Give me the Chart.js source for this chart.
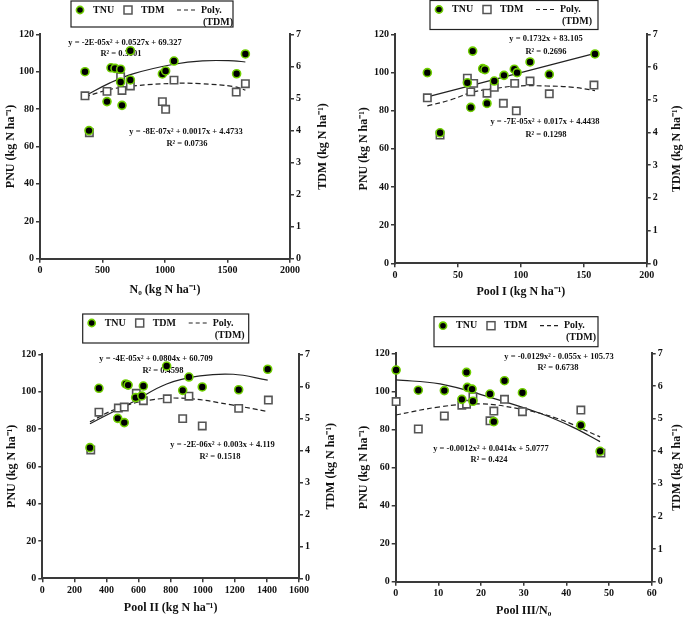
<!DOCTYPE html>
<html>
<head>
<meta charset="utf-8">
<script src="https://cdn.jsdelivr.net/npm/chart.js@4.4.1/dist/chart.umd.min.js"></script>
<style>
  body { margin: 0; background: #fff; }
  canvas { position: absolute; }
</style>
</head>
<body>
<canvas id="c1" width="340" height="305" style="left:0;top:0"></canvas>
<canvas id="c2" width="345" height="305" style="left:340px;top:0"></canvas>
<canvas id="c3" width="340" height="314" style="left:0;top:305px"></canvas>
<canvas id="c4" width="345" height="314" style="left:340px;top:305px"></canvas>
<script>
const FONT = '"Liberation Serif", "Times New Roman", serif';

// tick labels
const pnuTicks = [0, 20, 40, 60, 80, 100, 120];
const tdmTicks = [0, 1, 2, 3, 4, 5, 6, 7];
const n0Ticks = [0, 500, 1000, 1500, 2000];
const poolITicks = [0, 50, 100, 150, 200];
const poolIITicks = [0, 200, 400, 600, 800, 1000, 1200, 1400, 1600];
const poolIIITicks = [0, 10, 20, 30, 40, 50, 60];

// N0 panel
const n0TnuX = [360, 392, 536, 568, 600, 645, 656, 645, 723, 723, 979, 1005, 1072, 1573, 1643];
const n0TnuY = [100.0, 68.5, 84.0, 102.1, 101.8, 101.3, 82.0, 94.5, 111.2, 95.6, 98.8, 100.4, 105.7, 98.9, 109.5];
const n0TdmX = [360, 395, 536, 645, 656, 723, 979, 1005, 1072, 1570, 1643];
const n0TdmY = [5.08, 3.93, 5.22, 5.68, 5.25, 5.39, 4.90, 4.66, 5.57, 5.20, 5.46];
const n0FitX = [360, 560, 750, 1070, 1300, 1550, 1643];
const n0FitY = [87.0, 94.0, 99.0, 104.0, 105.8, 105.8, 105.2];
const n0TdmFitX = [360, 560, 750, 1070, 1280, 1550, 1643];
const n0TdmFitY = [5.05, 5.28, 5.39, 5.47, 5.46, 5.37, 5.26];

// Pool I panel
const p1TnuX = [25.7, 35.8, 61.7, 57.5, 60.2, 69.7, 71.5, 73.1, 78.9, 86.6, 94.8, 97.0, 107.3, 122.6, 158.9];
const p1TnuY = [99.9, 68.4, 111.2, 94.6, 81.7, 102.0, 101.5, 83.8, 95.5, 98.5, 101.7, 99.9, 105.5, 99.0, 109.7];
const p1TdmX = [25.7, 35.8, 57.5, 60.2, 62.5, 73.1, 78.9, 86.1, 96.4, 95.1, 107.3, 122.6, 158.1];
const p1TdmY = [5.06, 3.92, 5.66, 5.24, 5.50, 5.20, 5.38, 4.89, 4.66, 5.50, 5.57, 5.18, 5.45];
const p1FitX = [25.7, 158.9];
const p1FitY = [87.2, 110.0];
const p1TdmFitX = [25.7, 43.7, 62.5, 80.8, 96.4, 120.5, 141.7, 158.9];
const p1TdmFitY = [4.81, 4.99, 5.24, 5.35, 5.42, 5.42, 5.38, 5.28];

// Pool II panel
const p2TnuX = [297, 353, 470, 511, 520, 535, 582, 620, 630, 775, 875, 914, 997, 1224, 1405];
const p2TnuY = [70.0, 101.8, 85.7, 83.4, 104.1, 103.5, 96.8, 97.7, 103.0, 113.7, 100.7, 107.8, 102.5, 101.0, 112.0];
const p2TdmX = [302, 353, 474, 511, 586, 630, 779, 875, 914, 997, 1224, 1409];
const p2TdmY = [4.01, 5.19, 5.32, 5.35, 5.78, 5.55, 5.61, 4.99, 5.69, 4.76, 5.31, 5.57];
const p2FitX = [297, 464, 567, 775, 983, 1190, 1405];
const p2FitY = [82.8, 90.2, 94.6, 104.1, 108.4, 109.3, 106.2];
const p2TdmFitX = [297, 464, 671, 900, 1190, 1405];
const p2TdmFitY = [4.89, 5.30, 5.57, 5.62, 5.41, 5.21];

// Pool III/N0 panel
const p3TnuX = [0.1, 5.3, 11.4, 15.5, 16.6, 16.8, 17.9, 18.1, 22.1, 23.0, 25.5, 29.7, 43.4, 47.9];
const p3TnuY = [111.2, 100.6, 100.4, 95.8, 110.0, 102.1, 101.2, 94.8, 98.6, 84.1, 105.6, 99.3, 82.2, 68.5];
const p3TdmX = [0.1, 5.3, 11.4, 15.5, 16.6, 18.1, 22.1, 23.0, 25.5, 29.7, 43.4, 48.1];
const p3TdmY = [5.52, 4.68, 5.08, 5.41, 5.44, 5.67, 4.93, 5.23, 5.59, 5.21, 5.26, 3.94];
const p3FitX = [0, 10.4, 22.1, 33.8, 41.6, 47.9];
const p3FitY = [106.0, 103.9, 96.9, 88.5, 81.1, 73.6];
const p3TdmFitX = [0, 10.4, 19.8, 28.4, 37.7, 47.9];
const p3TdmFitY = [5.11, 5.36, 5.45, 5.31, 5.01, 4.44];

const legendLabels = ['TNU', 'TDM', 'Poly.', '(TDM)'];
const GREEN = '#6fcf00';

function pts(xs, ys) {
  return xs.map((x, i) => ({ x: x, y: ys[i] }));
}

const extras = {
  id: 'extras',
  beforeDatasetsDraw(chart, args, o) {
    const ctx = chart.ctx;
    ctx.save();
    ctx.fillStyle = '#111';
    ctx.font = 'bold 8.5px ' + FONT;
    ctx.textAlign = 'center';
    ctx.textBaseline = 'middle';
    o.notes.forEach(n => ctx.fillText(n[0], n[1], n[2]));
    ctx.restore();
  },
  afterDraw(chart, args, o) {
    const ctx = chart.ctx;
    const a = chart.chartArea;
    // right axis title, reading bottom to top like the left one
    ctx.save();
    ctx.font = 'bold 12px ' + FONT;
    ctx.fillStyle = '#111';
    ctx.translate(o.rightTitleX, (a.top + a.bottom) / 2);
    ctx.rotate(-Math.PI / 2);
    ctx.textAlign = 'center';
    ctx.textBaseline = 'middle';
    ctx.fillText(o.rightTitle, 0, 0);
    ctx.restore();

    // legend box
    const lx = o.legend[0], ly = o.legend[1], lw = o.legend[2], lh = o.legend[3];
    const row = ly + 9;
    ctx.save();
    ctx.strokeStyle = '#222';
    ctx.lineWidth = 1.2;
    ctx.strokeRect(lx, ly, lw, lh);
    ctx.beginPath();
    ctx.arc(lx + 9, row, 3.6, 0, Math.PI * 2);
    ctx.fillStyle = '#000';
    ctx.fill();
    ctx.lineWidth = 1.6;
    ctx.strokeStyle = GREEN;
    ctx.stroke();
    ctx.fillStyle = '#fff';
    ctx.strokeStyle = '#555';
    ctx.lineWidth = 1.5;
    ctx.fillRect(lx + 53, row - 4, 8, 8);
    ctx.strokeRect(lx + 53, row - 4, 8, 8);
    ctx.strokeStyle = '#222';
    ctx.lineWidth = 1.2;
    ctx.setLineDash([4, 3]);
    ctx.beginPath();
    ctx.moveTo(lx + 106, row);
    ctx.lineTo(lx + 126, row);
    ctx.stroke();
    ctx.setLineDash([]);
    ctx.fillStyle = '#111';
    ctx.font = 'bold 10px ' + FONT;
    ctx.textBaseline = 'middle';
    ctx.textAlign = 'left';
    ctx.fillText(legendLabels[0], lx + 22, row);
    ctx.fillText(legendLabels[1], lx + 70, row);
    ctx.fillText(legendLabels[2], lx + 130, row);
    ctx.fillText(legendLabels[3], lx + 132, ly + 21);
    ctx.restore();
  }
};

function axis(extra) {
  return Object.assign({
    type: 'linear',
    border: { color: '#3a3a3a', width: 2 },
    grid: { drawOnChartArea: false, drawTicks: true, tickLength: 4, color: '#3a3a3a', lineWidth: 1.5 },
    ticks: { color: '#111', font: { family: FONT, size: 10, weight: 'bold' }, padding: 2, maxRotation: 0, autoSkip: false,
             callback: v => String(v) }
  }, extra);
}

function titleOpts(text, pad) {
  return { display: true, text: text, color: '#111', font: { family: FONT, size: 12, weight: 'bold' }, padding: pad };
}

function makePanel(id, p) {
  const canvas = document.getElementById(id);
  const W = canvas.width, H = canvas.height;
  return new Chart(canvas, {
    type: 'scatter',
    data: {
      datasets: [
        { label: 'TNU', data: pts(p.tnuX, p.tnuY), yAxisID: 'y', pointStyle: 'circle', pointRadius: 4, pointHoverRadius: 4,
          backgroundColor: '#000', borderColor: GREEN, pointBackgroundColor: '#000', pointBorderColor: GREEN, pointBorderWidth: 1.6, clip: false, order: 1 },
        { label: 'TDM', data: pts(p.tdmX, p.tdmY), yAxisID: 'y2', pointStyle: 'rect', pointRadius: 5.2, pointHoverRadius: 5.2,
          backgroundColor: '#fff', borderColor: '#555', pointBackgroundColor: '#fff', pointBorderColor: '#555', pointBorderWidth: 1.6, clip: false, order: 2 },
        { label: 'TNU fit', data: pts(p.fitX, p.fitY), yAxisID: 'y', showLine: true, borderColor: '#222', borderWidth: 1.2,
          pointRadius: 0, tension: 0.4, order: 3 },
        { label: 'Poly. (TDM)', data: pts(p.tdmFitX, p.tdmFitY), yAxisID: 'y2', showLine: true, borderColor: '#222', borderWidth: 1.2,
          borderDash: [5, 3], pointRadius: 0, tension: 0.4, order: 4 }
      ]
    },
    options: {
      responsive: false,
      animation: false,
      devicePixelRatio: 1,
      layout: { padding: { top: p.area[2], left: 0, right: 0, bottom: 0 } },
      plugins: {
        legend: { display: false },
        tooltip: { enabled: false },
        extras: { notes: p.notes, legend: p.legend, rightTitle: 'TDM (kg N ha\u207B\u00B9)', rightTitleX: p.rtX }
      },
      scales: {
        x: axis({
          position: 'bottom', min: p.xTicks[0], max: p.xTicks[p.xTicks.length - 1],
          afterBuildTicks: s => { s.ticks = p.xTicks.map(v => ({ value: v })); },
          afterFit: s => { s.height = H - p.area[3]; },
          title: titleOpts(p.xTitle, { top: 0, bottom: p.xtPad })
        }),
        y: axis({
          position: 'left', min: 0, max: 120,
          afterBuildTicks: s => { s.ticks = pnuTicks.map(v => ({ value: v })); },
          afterFit: s => { s.width = p.area[0]; },
          title: titleOpts('PNU (kg N ha\u207B\u00B9)', { top: p.ltPad, bottom: 0 })
        }),
        y2: axis({
          position: 'right', min: 0, max: 7,
          afterBuildTicks: s => { s.ticks = tdmTicks.map(v => ({ value: v })); },
          afterFit: s => { s.width = W - p.area[1]; }
        })
      }
    },
    plugins: [extras]
  });
}

makePanel('c1', {
  tnuX: n0TnuX, tnuY: n0TnuY, tdmX: n0TdmX, tdmY: n0TdmY,
  fitX: n0FitX, fitY: n0FitY, tdmFitX: n0TdmFitX, tdmFitY: n0TdmFitY,
  xTicks: n0Ticks, xTitle: 'N\u2080 (kg N ha\u207B\u00B9)',
  area: [40, 290, 34.3, 258.7], ltPad: 4, xtPad: 7.8, rtX: 322.5,
  legend: [71, 1, 162, 26],
  notes: [['y = -2E-05x\u00B2 + 0.0527x + 69.327', 125, 43], ['R\u00B2 = 0.3101', 121, 54],
          ['y = -8E-07x\u00B2 + 0.0017x + 4.4733', 186, 132], ['R\u00B2 = 0.0736', 187, 144]]
});

makePanel('c2', {
  tnuX: p1TnuX, tnuY: p1TnuY, tdmX: p1TdmX, tdmY: p1TdmY,
  fitX: p1FitX, fitY: p1FitY, tdmFitX: p1TdmFitX, tdmFitY: p1TdmFitY,
  xTicks: poolITicks, xTitle: 'Pool I (kg N ha\u207B\u00B9)',
  area: [55, 306.7, 34.3, 263.3], ltPad: 16.8, xtPad: 6.1, rtX: 337,
  legend: [90, 0.5, 168, 29],
  notes: [['y = 0.1732x + 83.105', 206, 39], ['R\u00B2 = 0.2696', 206, 51.7],
          ['y = -7E-05x\u00B2 + 0.017x + 4.4438', 205, 122], ['R\u00B2 = 0.1298', 206, 135]]
});

makePanel('c3', {
  tnuX: p2TnuX, tnuY: p2TnuY, tdmX: p2TdmX, tdmY: p2TdmY,
  fitX: p2FitX, fitY: p2FitY, tdmFitX: p2TdmFitX, tdmFitY: p2TdmFitY,
  xTicks: poolIITicks, xTitle: 'Pool II (kg N ha\u207B\u00B9)',
  area: [42.3, 299, 49.3, 273.3], ltPad: 4.5, xtPad: 3.8, rtX: 331,
  legend: [82.7, 9, 166, 29],
  notes: [['y = -4E-05x\u00B2 + 0.0804x + 60.709', 156, 53.3], ['R\u00B2 = 0.4598', 163, 65.7],
          ['y = -2E-06x\u00B2 + 0.003x + 4.119', 222.5, 140], ['R\u00B2 = 0.1518', 220, 151.7]]
});

makePanel('c4', {
  tnuX: p3TnuX, tnuY: p3TnuY, tdmX: p3TdmX, tdmY: p3TdmY,
  fitX: p3FitX, fitY: p3FitY, tdmFitX: p3TdmFitX, tdmFitY: p3TdmFitY,
  xTicks: poolIIITicks, xTitle: 'Pool III/N\u2080',
  area: [55.7, 311.7, 48.3, 276.7], ltPad: 16.8, xtPad: 1.1, rtX: 336.5,
  legend: [94, 11.7, 164, 30],
  notes: [['y = -0.0129x\u00B2 - 0.055x + 105.73', 219, 51.7], ['R\u00B2 = 0.6738', 218, 62.3],
          ['y = -0.0012x\u00B2 + 0.0414x + 5.0777', 151, 143.3], ['R\u00B2 = 0.424', 149, 155]]
});
</script>
</body>
</html>
